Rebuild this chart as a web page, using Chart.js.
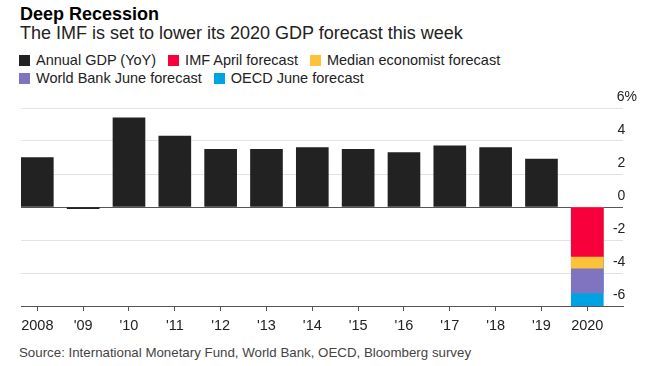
<!DOCTYPE html>
<html>
<head>
<meta charset="utf-8">
<script src="https://cdn.jsdelivr.net/npm/chart.js@4.4.0/dist/chart.umd.min.js"></script>
<style>
    body { margin: 0; background: #fff; font-family: "Liberation Sans", Arial, sans-serif; }
    #wrap { position: relative; width: 647px; height: 366px; overflow: hidden; }
    #title { position: absolute; left: 20px; top: 4px; font-size: 18px; line-height: 20px; font-weight: bold; color: #000; }
    #subtitle { position: absolute; left: 20px; top: 23px; font-size: 18px; line-height: 20px; color: #222; }
    .legendRow { position: absolute; left: 19px; font-size: 14.5px; line-height: 18px; color: #222; white-space: nowrap; }
    .legendItem { display: inline-block; margin-right: 12px; }
    .swatch { display: inline-block; width: 11px; height: 11px; margin-right: 6px; vertical-align: -1px; }
    #source { position: absolute; left: 19px; top: 345px; font-size: 13.3px; line-height: 16px; color: #444; }
    #myChart { position: absolute; left: 0; top: 80px; }
</style>
</head>
<body>
<div id="wrap">
    <div id="title">Deep Recession</div>
    <div id="subtitle">The IMF is set to lower its 2020 GDP forecast this week</div>
    <div class="legendRow" id="legendRow1" style="top: 51px;"></div>
    <div class="legendRow" id="legendRow2" style="top: 69px;"></div>
    <canvas id="myChart" width="647" height="260"></canvas>
    <div id="source">Source: International Monetary Fund, World Bank, OECD, Bloomberg survey</div>
</div>
<script>
    const years = [2008, 2009, 2010, 2011, 2012, 2013, 2014, 2015, 2016, 2017, 2018, 2019, 2020];
    const yearLabels = ['2008', "'09", "'10", "'11", "'12", "'13", "'14", "'15", "'16", "'17", "'18", "'19", '2020'];

    const annualGdp = [3.0, -0.1, 5.4, 4.3, 3.5, 3.5, 3.6, 3.5, 3.3, 3.7, 3.6, 2.9];

    const forecastNames = ['IMF April forecast', 'Median economist forecast', 'World Bank June forecast', 'OECD June forecast'];
    const forecast2020 = [-3.0, -3.7, -5.2, -6.0];

    const yTicks = [-6, -4, -2, 0, 2, 4, 6];
    const yTickLabels = ['-6', '-4', '-2', '0', '2', '4', '6%'];

    const gdpColor = '#222222';
    const forecastColors = ['#f8003c', '#fcc33a', '#8073bf', '#00a3e2'];

    // legend, two rows like the original
    const legendItems = [['Annual GDP (YoY)', gdpColor]].concat(forecastNames.map((n, i) => [n, forecastColors[i]]));
    legendItems.forEach((item, i) => {
        let row = document.querySelector(i < 3 ? "#legendRow1" : "#legendRow2");
        row.innerHTML += '<span class="legendItem"><span class="swatch" style="background:' + item[1] + '"></span>' + item[0] + '</span>';
    });

    const datasets = [{
        label: 'Annual GDP (YoY)',
        data: annualGdp.map((v, i) => ({ x: years[i], y: v })),
        backgroundColor: gdpColor,
        order: 0
    }];
    forecastNames.forEach((name, i) => {
        datasets.push({
            label: name,
            data: [{ x: 2020, y: forecast2020[i] }],
            backgroundColor: forecastColors[i],
            order: i + 1
        });
    });

    const ctx = document.getElementById('myChart');

    new Chart(ctx, {
        type: 'bar',
        data: { datasets: datasets },
        options: {
            responsive: false,
            animation: false,
            devicePixelRatio: 1,
            datasets: {
                bar: {
                    grouped: false,
                    barThickness: 32,
                    borderWidth: 0
                }
            },
            layout: {
                padding: { left: 21, top: 28, right: 0, bottom: 0 }
            },
            scales: {
                x: {
                    type: 'linear',
                    offset: false,
                    min: 2007.644,
                    max: 2020.779,
                    afterBuildTicks: (scale) => {
                        scale.ticks = years.map(v => ({ value: v }));
                    },
                    afterFit: (scale) => {
                        scale.height = 34;
                    },
                    grid: {
                        offset: false,
                        drawOnChartArea: false,
                        drawTicks: true,
                        tickLength: 5,
                        color: '#555'
                    },
                    border: { color: '#555' },
                    ticks: {
                        autoSkip: false,
                        maxRotation: 0,
                        padding: 6,
                        color: '#222',
                        font: { family: 'Liberation Sans', size: 14.5 },
                        callback: (v) => yearLabels[years.indexOf(v)]
                    }
                },
                y: {
                    position: 'right',
                    min: -6,
                    max: 6,
                    afterBuildTicks: (scale) => {
                        scale.ticks = yTicks.map(v => ({ value: v }));
                    },
                    afterFit: (scale) => {
                        scale.width = 24;
                    },
                    border: { display: false },
                    grid: {
                        drawTicks: false,
                        color: (c) => (c.tick && (c.tick.value === 0 || c.tick.value === -6)) ? '#555' : '#e2e2e2'
                    },
                    ticks: {
                        mirror: true,
                        crossAlign: 'near',
                        padding: 14,
                        labelOffset: -11,
                        color: '#222',
                        font: { family: 'Liberation Sans', size: 14 },
                        callback: (v) => {
                            let lbl = yTickLabels[yTicks.indexOf(v)];
                            return lbl.indexOf('%') >= 0 ? lbl : lbl + '   ';
                        }
                    }
                }
            },
            plugins: {
                legend: { display: false },
                tooltip: { enabled: false }
            }
        }
    });
</script>
</body>
</html>
